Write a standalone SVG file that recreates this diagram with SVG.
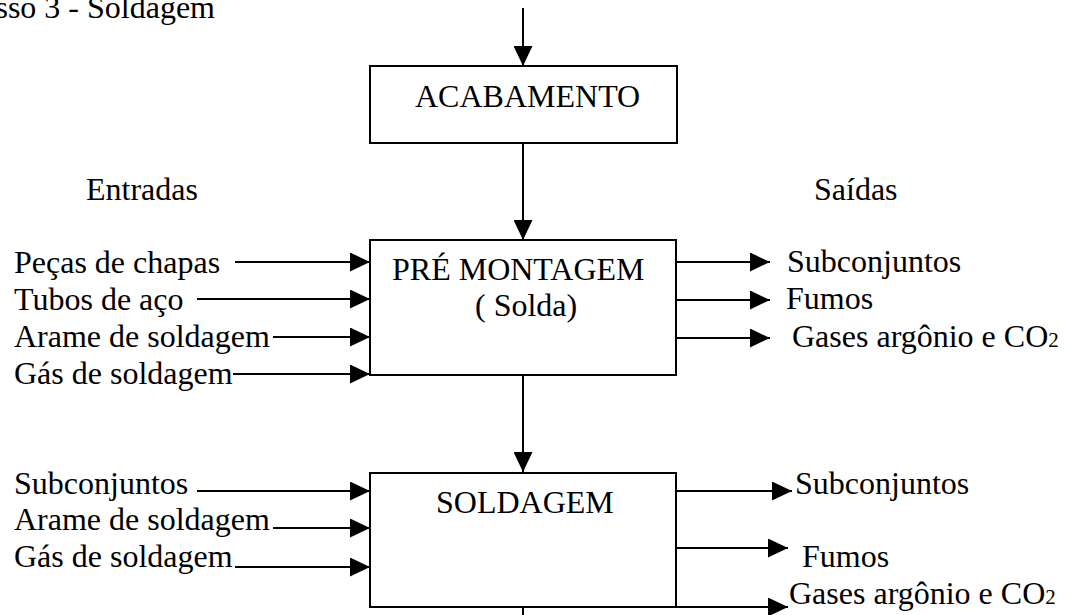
<svg xmlns="http://www.w3.org/2000/svg" width="1065" height="615" viewBox="0 0 1065 615">
  <style>
    text { font-family: "Liberation Serif", "Times New Roman", serif; font-size: 32px; fill: #000; }
    .sub { font-size: 21px; }
    .box { fill: #fff; stroke: #000; stroke-width: 2; }
    .edge { fill: none; stroke: #000; stroke-width: 2; }
  </style>
  <defs>
    <marker id="arrow" markerUnits="userSpaceOnUse" markerWidth="20" markerHeight="19" refX="20" refY="9.5" orient="auto">
      <path d="M0,0 L20,9.5 L0,19 Z" fill="#000"/>
    </marker>
  </defs>

  <rect width="1065" height="615" fill="#fff"/>

  <text id="title" x="215" y="18" text-anchor="end">sso 3 - Soldagem</text>
  <text id="lbl-entradas" x="86" y="200">Entradas</text>
  <text id="lbl-saidas" x="814" y="200">Saídas</text>

  <!-- connectors -->
  <g id="connectors" class="edge">
    <!-- main flow -->
    <line x1="523" y1="8" x2="523" y2="66" marker-end="url(#arrow)"/>
    <line x1="523" y1="143" x2="523" y2="240" marker-end="url(#arrow)"/>
    <line x1="523" y1="375" x2="523" y2="472" marker-end="url(#arrow)"/>
    <line x1="523" y1="607" x2="523" y2="615"/>

    <!-- inputs to pre-assembly -->
    <line x1="235" y1="262" x2="370" y2="262" marker-end="url(#arrow)"/>
    <line x1="197" y1="299" x2="370" y2="299" marker-end="url(#arrow)"/>
    <line x1="273" y1="337" x2="370" y2="337" marker-end="url(#arrow)"/>
    <line x1="233" y1="374" x2="370" y2="374" marker-end="url(#arrow)"/>

    <!-- outputs of pre-assembly -->
    <line x1="676" y1="262" x2="770" y2="262" marker-end="url(#arrow)"/>
    <line x1="676" y1="300" x2="770" y2="300" marker-end="url(#arrow)"/>
    <line x1="676" y1="338" x2="770" y2="338" marker-end="url(#arrow)"/>

    <!-- inputs to welding -->
    <line x1="197" y1="491" x2="370" y2="491" marker-end="url(#arrow)"/>
    <line x1="273" y1="528" x2="370" y2="528" marker-end="url(#arrow)"/>
    <line x1="235" y1="567" x2="370" y2="567" marker-end="url(#arrow)"/>

    <!-- outputs of welding -->
    <line x1="676" y1="491" x2="792" y2="491" marker-end="url(#arrow)"/>
    <line x1="676" y1="548" x2="788" y2="548" marker-end="url(#arrow)"/>
    <line x1="676" y1="607" x2="788" y2="607" marker-end="url(#arrow)"/>
  </g>

  <g id="node-acabamento">
    <rect class="box" x="370" y="66" width="307" height="77"/>
    <text x="415" y="107">ACABAMENTO</text>
  </g>

  <g id="node-pre-montagem">
    <rect class="box" x="370" y="240" width="306" height="135"/>
    <text x="392" y="280">PRÉ MONTAGEM</text>
    <text x="475" y="316">( Solda)</text>
  </g>

  <g id="node-soldagem">
    <rect class="box" x="370" y="473" width="306" height="134"/>
    <text x="436" y="513">SOLDAGEM</text>
  </g>

  <!-- labels of inputs -->
  <g id="inputs-pre-montagem">
    <text x="14" y="273">Peças de chapas</text>
    <text x="14" y="310">Tubos de aço</text>
    <text x="14" y="347">Arame de soldagem</text>
    <text x="14" y="384">Gás de soldagem</text>
  </g>
  <g id="outputs-pre-montagem">
    <text x="787" y="272">Subconjuntos</text>
    <text x="786" y="309">Fumos</text>
    <text x="792" y="347">Gases argônio e CO<tspan class="sub">2</tspan></text>
  </g>

  <g id="inputs-soldagem">
    <text x="14" y="494">Subconjuntos</text>
    <text x="14" y="530">Arame de soldagem</text>
    <text x="14" y="567">Gás de soldagem</text>
  </g>
  <g id="outputs-soldagem">
    <text x="795" y="494">Subconjuntos</text>
    <text x="802" y="567">Fumos</text>
    <text x="789" y="604">Gases argônio e CO<tspan class="sub">2</tspan></text>
  </g>
</svg>
